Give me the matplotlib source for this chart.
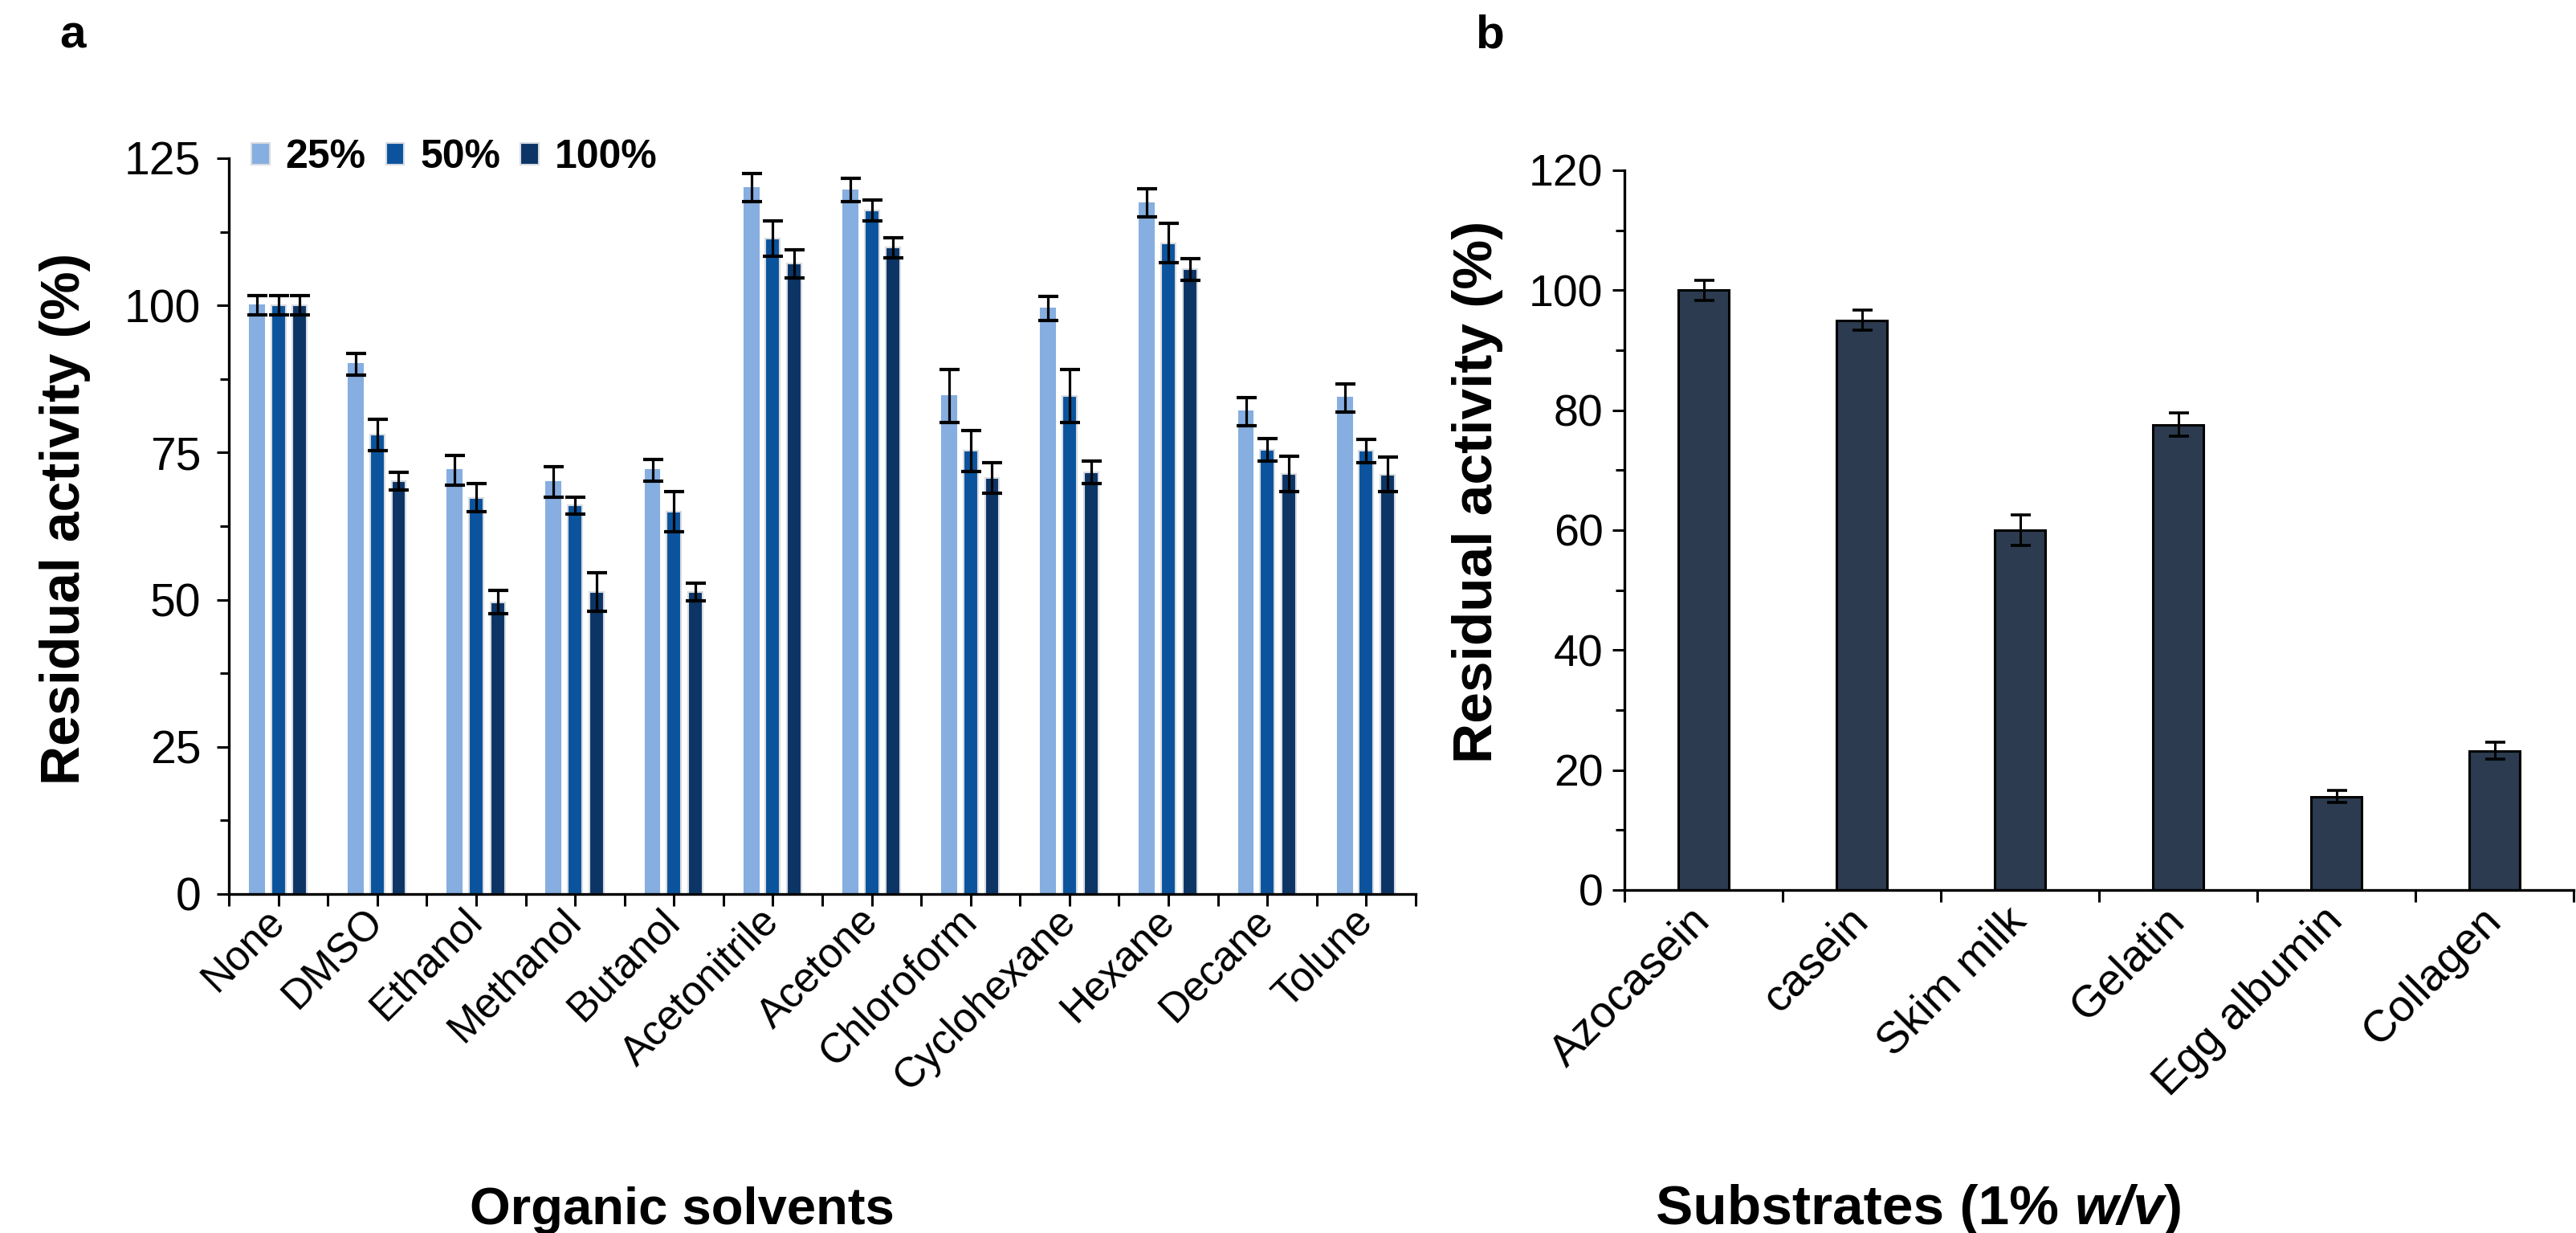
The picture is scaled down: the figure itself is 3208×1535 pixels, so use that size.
"""Residual activity in organic solvents (a) and on different substrates (b)."""

import matplotlib
matplotlib.use("Agg")
import matplotlib.pyplot as plt
from matplotlib.patches import Patch
from matplotlib.ticker import MultipleLocator, FixedLocator
import numpy as np

plt.rcParams["font.family"] = ["Liberation Sans", "DejaVu Sans"]

# ---- panel a data ----
solvents = ["None", "DMSO", "Ethanol", "Methanol", "Butanol", "Acetonitrile",
            "Acetone", "Chloroform", "Cyclohexane", "Hexane", "Decane", "Tolune"]
conc_labels = ["25%", "50%", "100%"]
act_25 = [100, 90, 72, 70, 72, 120, 119.6, 84.6, 99.5, 117.4, 82, 84.3]
err_25 = [1.6, 1.8, 2.5, 2.6, 1.8, 2.4, 2.0, 4.5, 2.0, 2.4, 2.4, 2.4]
act_50 = [100, 78, 67.3, 66, 65, 111.4, 116.1, 75.3, 84.6, 110.6, 75.5, 75.3]
err_50 = [1.6, 2.7, 2.4, 1.4, 3.4, 3.0, 1.8, 3.5, 4.5, 3.3, 1.9, 2.0]
act_100 = [100, 70.1, 49.6, 51.3, 51.3, 107.1, 109.8, 70.7, 71.7, 106.1, 71.4, 71.3]
err_100 = [1.6, 1.5, 2.0, 3.3, 1.5, 2.4, 1.7, 2.6, 1.9, 1.8, 3.0, 3.0]

# ---- panel b data ----
substrates = ["Azocasein", "casein", "Skim milk", "Gelatin", "Egg albumin", "Collagen"]
sub_activity = [100, 95, 60, 77.6, 15.6, 23.2]
sub_err = [1.7, 1.7, 2.5, 1.9, 1.0, 1.4]

COLORS = ["#86aee0", "#0b549d", "#0c3566"]
BAR_B = "#2c3b4f"

W, H = 3208, 1535
fig = plt.figure(figsize=(W / 100, H / 100), dpi=100)

ax1 = fig.add_axes([285 / W, 1 - 1113 / H, 1478 / W, 916 / H])
ax2 = fig.add_axes([2023 / W, 1 - 1108 / H, 1182 / W, 896 / H])

# ---- panel a ----
x = np.arange(len(solvents))
bw = 0.145
step = 0.217
series = [(act_25, err_25), (act_50, err_50), (act_100, err_100)]
for i, (vals, errs) in enumerate(series):
    ax1.bar(x + (i - 1) * step, vals, width=bw, color=COLORS[i],
            edgecolor="#d8dce2" if i > 0 else COLORS[i], linewidth=1.5,
            label=conc_labels[i], zorder=2)
    ax1.errorbar(x + (i - 1) * step, vals, yerr=errs, fmt="none", ecolor="black",
                 elinewidth=2.3, capsize=9, capthick=3, zorder=3)

ax1.set_xlim(-0.5, len(solvents) - 0.5)
ax1.set_ylim(0, 125)
ax1.yaxis.set_major_locator(MultipleLocator(25))
ax1.yaxis.set_minor_locator(MultipleLocator(12.5))
ax1.set_xticks(x)
ax1.set_xticklabels(solvents, rotation=45, ha="right", va="center",
                    rotation_mode="anchor")
ax1.xaxis.set_minor_locator(FixedLocator(np.arange(-0.5, len(solvents), 1.0)))
ax1.tick_params(axis="x", which="both", length=11, width=2.2, labelsize=37, pad=8)
ax1.tick_params(axis="y", which="major", length=11, width=2.2, labelsize=41, pad=14)
ax1.tick_params(axis="y", which="minor", length=8, width=2.2)

handles = [Patch(facecolor=c, edgecolor="#d8dce2", linewidth=1.5) for c in COLORS]
leg = ax1.legend(handles, conc_labels, ncol=3, frameon=False, loc="center left",
                 bbox_to_anchor=(313 / W, 1 - 196 / H), bbox_transform=fig.transFigure,
                 borderaxespad=0, borderpad=0, handlelength=0.45, handleheight=0.45,
                 handletextpad=0.4, columnspacing=0.5,
                 prop={"size": 36, "weight": "bold"})

# ---- panel b ----
xb = np.arange(len(substrates))
ax2.bar(xb, sub_activity, width=0.32, color=BAR_B, edgecolor="black",
        linewidth=2.2, zorder=2)
ax2.errorbar(xb, sub_activity, yerr=sub_err, fmt="none", ecolor="black",
             elinewidth=2.2, capsize=9, capthick=2.6, zorder=3)
ax2.set_xlim(-0.5, len(substrates) - 0.5)
ax2.set_ylim(0, 120)
ax2.yaxis.set_major_locator(MultipleLocator(20))
ax2.yaxis.set_minor_locator(MultipleLocator(10))
ax2.set_xticks(xb)
ax2.set_xticklabels(substrates, rotation=45, ha="right", va="center",
                    rotation_mode="anchor")
ax2.xaxis.set_minor_locator(FixedLocator(np.arange(-0.5, len(substrates), 1.0)))
ax2.tick_params(axis="x", which="major", length=0, labelsize=40, pad=22)
ax2.tick_params(axis="x", which="minor", length=11, width=2.2)
ax2.tick_params(axis="y", which="major", length=11, width=2.2, labelsize=40, pad=8)
ax2.tick_params(axis="y", which="minor", length=8, width=2.2)

for ax in (ax1, ax2):
    ax.spines["top"].set_visible(False)
    ax.spines["right"].set_visible(False)
    ax.spines["left"].set_linewidth(2.4)
    ax.spines["bottom"].set_linewidth(2.4)

# axis labels
fig.text(81 / W, 1 - 646 / H, "Residual activity (%)", rotation=90, ha="center",
         va="center", fontsize=49, fontweight="bold")
fig.text(1840 / W, 1 - 612 / H, "Residual activity (%)", rotation=90, ha="center",
         va="center", fontsize=50, fontweight="bold")
fig.text(849 / W, 1 - 1524 / H, "Organic solvents", ha="center", va="baseline",
         fontsize=47, fontweight="bold")

base_y = 1 - 1524 / H
t1 = fig.text(2062 / W, base_y, "Substrates (1% ", ha="left", va="baseline",
              fontsize=50, fontweight="bold")
t2 = fig.text(0, 0, "w/v", ha="left", va="baseline", fontsize=50,
              fontweight="bold", style="italic")
t3 = fig.text(0, 0, ")", ha="left", va="baseline", fontsize=50, fontweight="bold")
fig.canvas.draw()
r = fig.canvas.get_renderer()
bb1 = t1.get_window_extent(r)
t2.set_position((bb1.x1 / W, base_y))
bb2 = t2.get_window_extent(r)
t3.set_position((bb2.x1 / W, base_y))

# panel letters
fig.text(90 / W, 1 - 45 / H, "a", ha="center", va="center", fontsize=42, fontweight="bold")
fig.text(1855 / W, 1 - 45 / H, "b", ha="center", va="center", fontsize=42, fontweight="bold")

fig.savefig("out.png", dpi=100)
